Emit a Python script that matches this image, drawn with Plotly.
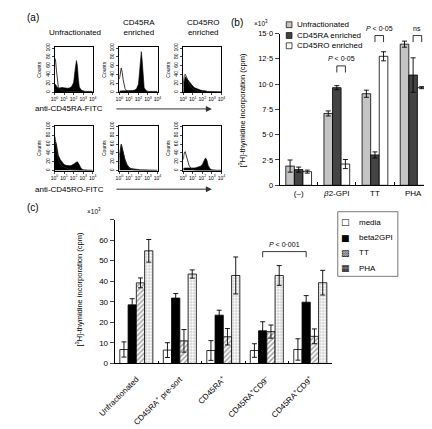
import plotly.graph_objects as go

W, H = 432, 429
FONT = "Liberation Sans, Arial, sans-serif"

# ---------------- Panel (a): flow cytometry histograms ----------------
decade_grid = [0, 0.1, 0.2, 0.3, 0.4, 0.6, 0.8, 1.0, 1.2, 1.4, 1.6, 1.8, 2.0, 2.1,
               2.2, 2.3, 2.4, 2.5, 2.6, 2.8, 3.0, 3.2, 3.5, 4.0]
decade_ticks = [0, 1, 2, 3, 4]
decade_ticktext = ["10<sup>0</sup>", "10<sup>1</sup>", "10<sup>2</sup>", "10<sup>3</sup>", "10<sup>4</sup>"]
count_ticks = [0, 20, 40, 60, 80, 100]
hist_columns = ["Unfractionated", "CD45RA<br>enriched", "CD45RO<br>enriched"]
hist_rows = ["anti-CD45RA-FITC", "anti-CD45RO-FITC"]

# anti-CD45RA-FITC stain (row 1): filled = stained, open = control
ra_filled = [
    [15, 18, 14, 10, 9, 10, 11, 10, 9, 9, 10, 13, 22, 35, 58, 72, 60, 30, 12, 5, 3, 2, 2, 2],
    [3, 3, 3, 3, 3, 3, 3, 3, 3, 4, 5, 8, 18, 38, 65, 92, 70, 30, 10, 4, 2, 2, 2, 2],
    [15, 30, 35, 33, 30, 24, 18, 14, 10, 8, 6, 5, 4, 4, 3, 3, 3, 2, 2, 2, 2, 1, 1, 1],
]
ra_open = [
    [78, 74, 50, 25, 12, 6, 4, 3, 2, 2, 1, 1, 1, 1, 1, 1, 1, 1, 1, 0, 0, 0, 0, 0],
    [30, 48, 55, 45, 28, 8, 3, 1, 0, 0, 0, 0, 0, 0, 0, 0, 0, 0, 0, 0, 0, 0, 0, 0],
    [20, 38, 41, 36, 28, 18, 12, 8, 5, 3, 2, 1, 1, 1, 0, 0, 0, 0, 0, 0, 0, 0, 0, 0],
]
# anti-CD45RO-FITC stain (row 2)
ro_filled = [
    [50, 65, 60, 45, 35, 25, 18, 14, 12, 11, 11, 12, 14, 16, 18, 20, 20, 17, 12, 5, 2, 1, 1, 1],
    [30, 45, 58, 50, 40, 25, 14, 8, 5, 4, 3, 3, 2, 2, 2, 2, 2, 2, 2, 1, 1, 1, 1, 1],
    [5, 6, 6, 6, 6, 5, 5, 5, 6, 7, 8, 10, 14, 20, 25, 28, 27, 22, 12, 4, 2, 1, 1, 1],
]
ro_open = [
    [79, 70, 50, 35, 25, 15, 10, 8, 6, 4, 3, 2, 1, 1, 1, 1, 1, 1, 0, 0, 0, 0, 0, 0],
    [35, 50, 60, 52, 40, 22, 12, 6, 3, 2, 1, 1, 1, 0, 0, 0, 0, 0, 0, 0, 0, 0, 0, 0],
    [25, 40, 43, 35, 25, 12, 5, 2, 0, 0, 0, 0, 0, 0, 0, 0, 0, 0, 0, 0, 0, 0, 0, 0],
]

# ---------------- Panel (b) ----------------
b_categories = ["(–)", "<i>β</i>2-GPI", "TT", "PHA"]
b_series = ["Unfractionated", "CD45RA enriched", "CD45RO enriched"]
b_unfrac = [1.9, 7.1, 9.05, 13.95]
b_unfrac_err = [0.6, 0.25, 0.35, 0.3]
b_ra = [1.55, 9.65, 3.0, 10.9]
b_ra_err = [0.25, 0.2, 0.3, 1.7]
b_ro = [1.35, 2.1, 12.75, 9.65]
b_ro_err = [0.15, 0.45, 0.45, 0.1]
b_yticks = [0, 2.5, 5.0, 7.5, 10.0, 12.5, 15.0]
b_yticktext = ["0", "2·5", "5·0", "7·5", "10·0", "12·5", "15·0"]
b_brackets_cat = [1, 2, 3]
b_brackets_top = [11.8, 14.8, 14.8]
b_brackets_text = ["<i>P</i> < 0·05", "<i>P</i> < 0·05", "ns"]

# ---------------- Panel (c) ----------------
c_categories = ["Unfractionated", "CD45RA<sup>+</sup> pre-sort", "CD45RA<sup>+</sup>",
                "CD45RA<sup>+</sup>CD9<sup>–</sup>", "CD45RA<sup>+</sup>CD9<sup>+</sup>"]
c_series = ["media", "beta2GPI", "TT", "PHA"]
c_media = [6.8, 6.5, 6.3, 6.3, 6.8]
c_media_err = [3.7, 3.6, 4.8, 3.3, 5.2]
c_beta2gpi = [28.5, 31.8, 23.5, 15.9, 29.8]
c_beta2gpi_err = [3.0, 2.2, 2.4, 4.4, 3.2]
c_tt = [39.2, 11.0, 13.0, 15.5, 13.2]
c_tt_err = [2.4, 5.5, 4.0, 3.2, 3.6]
c_pha = [54.8, 43.5, 42.8, 42.8, 39.3]
c_pha_err = [5.5, 2.0, 9.0, 4.8, 6.0]
c_yticks = [0, 10, 20, 30, 40, 50, 60, 70]
c_yticktext = ["0", "10", "20", "30", "40", "50", "60", ""]
c_bracket_cats = [3, 4]
c_bracket_top = 54.4
c_bracket_text = "<i>P</i> < 0·001"


def px(x):
    return x / W


def py(y):
    return 1 - y / H


def note(x, y, text, size=8, xanchor="left", yanchor="middle", **kw):
    d = dict(x=px(x), y=py(y), xref="paper", yref="paper", text=text, showarrow=False,
             xanchor=xanchor, yanchor=yanchor, font=dict(size=size, color="black"))
    d.update(kw)
    return d


fig = go.Figure()
layout = dict(
    width=W, height=H, margin=dict(l=0, r=0, t=0, b=0),
    paper_bgcolor="white", plot_bgcolor="white",
    font=dict(family=FONT, color="black", size=8),
    showlegend=False, barmode="overlay",
)
annotations = []
shapes = []

# ---- Panel (a) layout ----
box_x = [(32, 72), (100, 140), (167, 207)]
box_y = [(36, 82), (116, 162)]
row_filled = [ra_filled, ro_filled]
row_open = [ra_open, ro_open]
for r in range(2):
    for c in range(3):
        k = r * 3 + c + 1
        xa, ya = f"x{k}", f"y{k}"
        fig.add_trace(go.Scatter(x=decade_grid, y=row_filled[r][c], mode="lines",
                                 fill="tozeroy", fillcolor="black",
                                 line=dict(color="black", width=0.6),
                                 xaxis=xa, yaxis=ya, hoverinfo="skip"))
        fig.add_trace(go.Scatter(x=decade_grid, y=row_open[r][c], mode="lines",
                                 line=dict(color="#222", width=0.9),
                                 xaxis=xa, yaxis=ya, hoverinfo="skip"))
        layout[f"xaxis{k}"] = dict(
            domain=[px(box_x[c][0]), px(box_x[c][1])], anchor=ya, range=[0, 4],
            tickvals=decade_ticks, ticktext=decade_ticktext, tickfont=dict(size=5),
            tickangle=0, ticks="outside", ticklen=2, tickwidth=0.6, showline=True,
            mirror=True, linecolor="black", linewidth=0.8, showgrid=False, zeroline=False)
        layout[f"yaxis{k}"] = dict(
            domain=[py(box_y[r][1]), py(box_y[r][0])], anchor=xa, range=[0, 102],
            tickvals=count_ticks, tickangle=-90, tickfont=dict(size=5),
            ticks="outside", ticklen=2, tickwidth=0.6, showline=True, mirror=True,
            linecolor="black", linewidth=0.8, showgrid=False, zeroline=False,
            title=dict(text="Counts", font=dict(size=5), standoff=2))

annotations.append(note(1, 6, "(a)", size=10))
for c, title in enumerate(hist_columns):
    cx = (box_x[c][0] + box_x[c][1]) / 2
    annotations.append(note(cx + 1, 28, title, size=8, xanchor="center", yanchor="bottom"))
for r, lab in enumerate(hist_rows):
    ly = [99, 181][r]
    annotations.append(note(9, ly, lab, size=8))
    annotations.append(dict(x=px(197), y=py(ly), xref="paper", yref="paper",
                            ax=-97, ay=0, axref="pixel", ayref="pixel",
                            text="", showarrow=True, arrowhead=2, arrowsize=1.2,
                            arrowwidth=1, arrowcolor="#333"))

# ---- Panel (b) ----
b_x = list(range(len(b_categories)))
b_vals = [b_unfrac, b_ra, b_ro]
b_errs = [b_unfrac_err, b_ra_err, b_ro_err]
b_colors = ["#c4c4c4", "#444444", "white"]
b_w = 0.225
for i in range(3):
    fig.add_trace(go.Bar(x=b_x, y=b_vals[i], width=b_w, offset=-1.5 * b_w + i * b_w,
                         name=b_series[i],
                         marker=dict(color=b_colors[i], line=dict(color="black", width=0.8)),
                         error_y=dict(type="data", array=b_errs[i], color="black",
                                      thickness=0.9, width=2.5),
                         xaxis="x7", yaxis="y7"))
layout["xaxis7"] = dict(domain=[px(268), px(428)], anchor="y7", range=[-0.5, 3.5],
                        tickvals=b_x, ticktext=b_categories, ticks="", tickfont=dict(size=8),
                        showline=True, linecolor="black", linewidth=0.9, showgrid=False,
                        zeroline=False,
                        minor=dict(tickvals=[v + 0.5 for v in b_x[:-1]], ticks="inside",
                                   ticklen=3, tickcolor="black", tickwidth=0.8))
layout["yaxis7"] = dict(domain=[py(177), py(22)], anchor="x7", range=[0, 15],
                        tickvals=b_yticks, ticktext=b_yticktext, ticks="outside",
                        ticklen=4, tickwidth=0.8, tickfont=dict(size=7.5),
                        showline=True, linecolor="black", linewidth=0.9,
                        showgrid=False, zeroline=False)
annotations.append(note(215, 11, "(b)", size=10))
annotations.append(note(239, 11, "×10<sup>3</sup>", size=6.5))
annotations.append(note(228, 100, "[<sup>3</sup>H]-thymidine incorporation (cpm)", size=7.5,
                        xanchor="center", textangle=-90))
# legend (b)
for i, name in enumerate(b_series):
    ly = [13, 24, 34.5][i]
    shapes.append(dict(type="rect", xref="paper", yref="paper",
                       x0=px(275), x1=px(281), y0=py(ly + 3), y1=py(ly - 3),
                       fillcolor=b_colors[i], line=dict(color="black", width=0.7)))
    annotations.append(note(284, ly, name, size=8))
# significance brackets (b): between CD45RA and CD45RO bars
for cat, top, txt in zip(b_brackets_cat, b_brackets_top, b_brackets_text):
    xl = cat - 1.5 * b_w + 1.5 * b_w
    xr = cat - 1.5 * b_w + 2.5 * b_w
    shapes.append(dict(type="path", xref="x7", yref="y7",
                       path=f"M {xl} {top - 0.65} L {xl} {top} L {xr} {top} L {xr} {top - 0.65}",
                       line=dict(color="black", width=0.8)))
    annotations.append(dict(x=(xl + xr) / 2, y=top, xref="x7", yref="y7", text=txt,
                            showarrow=False, xanchor="center", yanchor="bottom", yshift=2,
                            font=dict(size=7, color="black")))

# ---- Panel (c) ----
c_x = list(range(len(c_categories)))
c_vals = [c_media, c_beta2gpi, c_tt, c_pha]
c_errs = [c_media_err, c_beta2gpi_err, c_tt_err, c_pha_err]
c_markers = [
    dict(color="white", line=dict(color="black", width=0.8)),
    dict(color="black", line=dict(color="black", width=0.8)),
    dict(color="white", line=dict(color="black", width=0.8),
         pattern=dict(shape="/", size=3.5, solidity=0.45, fgcolor="#444", bgcolor="white")),
    dict(color="white", line=dict(color="black", width=0.8),
         pattern=dict(shape="+", size=3, solidity=0.35, fgcolor="#777", bgcolor="white")),
]
c_w = 0.19
for i in range(4):
    fig.add_trace(go.Bar(x=c_x, y=c_vals[i], width=c_w, offset=-2 * c_w + i * c_w,
                         name=c_series[i], marker=c_markers[i],
                         error_y=dict(type="data", array=c_errs[i], color="black",
                                      thickness=0.9, width=2.5),
                         xaxis="x8", yaxis="y8"))
layout["xaxis8"] = dict(domain=[px(95), px(323)], anchor="y8", range=[-0.5, 4.5],
                        tickvals=c_x, ticktext=c_categories, ticks="", tickangle=-45,
                        ticklabelstandoff=7,
                        tickfont=dict(size=8), showline=True, linecolor="black",
                        linewidth=0.9, showgrid=False, zeroline=False,
                        minor=dict(tickvals=[v + 0.5 for v in c_x[:-1]], ticks="inside",
                                   ticklen=3, tickcolor="black", tickwidth=0.8))
layout["yaxis8"] = dict(domain=[py(359), py(212)], anchor="x8", range=[0, 70],
                        tickvals=c_yticks, ticktext=c_yticktext, ticks="outside",
                        ticklen=4, tickwidth=0.8, tickfont=dict(size=8),
                        showline=True, linecolor="black", linewidth=0.9,
                        showgrid=False, zeroline=False)
annotations.append(note(1, 200, "(c)", size=10))
annotations.append(note(64, 203, "×10<sup>3</sup>", size=6.5))
annotations.append(note(58, 283, "[<sup>3</sup>H]-thymidine incorporation (cpm)", size=7.5,
                        xanchor="center", textangle=-90))
# bracket (c): beta2GPI of CD45RA+CD9- vs CD45RA+CD9+
bl = c_bracket_cats[0] - 2 * c_w + 1.5 * c_w
br = c_bracket_cats[1] - 2 * c_w + 1.5 * c_w
shapes.append(dict(type="path", xref="x8", yref="y8",
                   path=f"M {bl} {c_bracket_top - 2.7} L {bl} {c_bracket_top} L {br} {c_bracket_top} L {br} {c_bracket_top - 2.7}",
                   line=dict(color="black", width=0.8)))
annotations.append(dict(x=(bl + br) / 2, y=c_bracket_top, xref="x8", yref="y8",
                        text=c_bracket_text, showarrow=False, xanchor="center",
                        yanchor="bottom", yshift=2, font=dict(size=7, color="black")))
# legend (c)
shapes.append(dict(type="rect", xref="paper", yref="paper", x0=px(329), x1=px(392),
                   y0=py(270), y1=py(204), line=dict(color="#555", width=0.8),
                   fillcolor="rgba(0,0,0,0)"))
c_glyphs = ["□", "■", "▨", "▦"]
for i, name in enumerate(c_series):
    ly = [215, 230.5, 246, 261.5][i]
    annotations.append(note(337, ly, c_glyphs[i], size=9, xanchor="center",
                            font=dict(size=9, family="DejaVu Sans", color="black")))
    annotations.append(note(349, ly, name, size=8))

layout["annotations"] = annotations
layout["shapes"] = shapes
fig.update_layout(**layout)
fig.write_html("out.html")
